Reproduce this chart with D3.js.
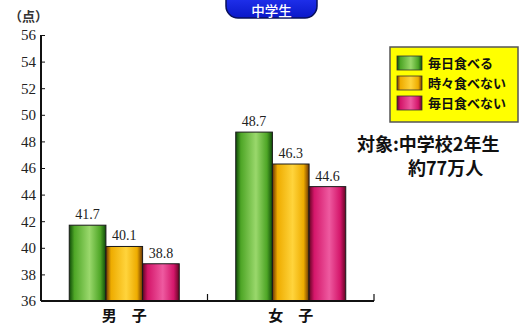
<!DOCTYPE html>
<html>
<head>
<meta charset="utf-8">
<script src="https://cdn.jsdelivr.net/npm/d3@7"></script>
<style>
  html, body { margin: 0; padding: 0; background: #fff; }
  svg { display: block; }
</style>
</head>
<body>
<svg id="chart" width="522" height="326"></svg>
<script>
// Breakfast habit vs. average score, middle school
const categories = ["男\u3000子", "女\u3000子"];
const seriesNames = ["毎日食べる", "時々食べない", "毎日食べない"];
const boysValues = [41.7, 40.1, 38.8];
const girlsValues = [48.7, 46.3, 44.6];
const yTicks = [36, 38, 40, 42, 44, 46, 48, 50, 52, 54, 56];
const title = "中学生";
const unitLabel = "（点）";
const noteLines = ["対象:中学校2年生", "約77万人"];

const table = categories.map((c, i) => ({
  category: c,
  values: [boysValues, girlsValues][i]
}));

const svg = d3.select("#chart");
const defs = svg.append("defs");

// Cylinder-like shading for each series
const palette = [
  { edge: "#0f4a08", mid: "#4ea626", light: "#9ad86c" },
  { edge: "#6a3404", mid: "#eeac00", light: "#ffd43c" },
  { edge: "#640422", mid: "#d4166a", light: "#ee5aa0" }
];
palette.forEach((p, i) => {
  const g = defs.append("linearGradient").attr("id", "grad" + i)
    .attr("x1", "0%").attr("x2", "100%").attr("y1", "0%").attr("y2", "0%");
  g.append("stop").attr("offset", "0%").attr("stop-color", p.edge);
  g.append("stop").attr("offset", "14%").attr("stop-color", p.mid);
  g.append("stop").attr("offset", "55%").attr("stop-color", p.light);
  g.append("stop").attr("offset", "85%").attr("stop-color", p.mid);
  g.append("stop").attr("offset", "100%").attr("stop-color", p.edge);
});
const titleGrad = defs.append("linearGradient").attr("id", "titleGrad")
  .attr("x1", "0%").attr("x2", "0%").attr("y1", "0%").attr("y2", "100%");
titleGrad.append("stop").attr("offset", "0%").attr("stop-color", "#2a3cff");
titleGrad.append("stop").attr("offset", "100%").attr("stop-color", "#0a18c8");

const plotLeft = 41, plotRight = 374, plotTop = 35, plotBottom = 301;

const y = d3.scaleLinear().domain([36, 56]).range([plotBottom, plotTop]);
const x0 = d3.scaleBand().domain(categories).range([plotLeft, plotRight]).padding(0);
const groupW = 110;
const x1 = d3.scaleBand().domain(seriesNames)
  .range([(x0.bandwidth() - groupW) / 2, (x0.bandwidth() + groupW) / 2]).padding(0);

// Bars
const groups = svg.append("g").selectAll("g").data(table).join("g")
  .attr("transform", d => `translate(${x0(d.category)},0)`);

groups.selectAll("rect").data(d => d.values.map((v, i) => ({ v, i })))
  .join("rect")
  .attr("x", d => x1(seriesNames[d.i]))
  .attr("y", d => y(d.v))
  .attr("width", x1.bandwidth())
  .attr("height", d => plotBottom - y(d.v))
  .attr("fill", d => `url(#grad${d.i})`)
  .attr("stroke", "#1a1a1a")
  .attr("stroke-width", 1);

groups.selectAll("text.val").data(d => d.values.map((v, i) => ({ v, i })))
  .join("text")
  .attr("class", "val")
  .attr("x", d => x1(seriesNames[d.i]) + x1.bandwidth() / 2)
  .attr("y", d => y(d.v) - 6)
  .attr("text-anchor", "middle")
  .attr("font-family", "'Liberation Serif', 'DejaVu Serif', serif")
  .attr("font-size", 14)
  .attr("fill", "#222")
  .text(d => d.v.toFixed(1));

// Y axis
const yAxis = d3.axisRight(y).tickValues(yTicks).tickSize(4).tickFormat(d3.format("d"));
const yg = svg.append("g").attr("transform", `translate(${plotLeft},0)`).call(yAxis);
yg.select(".domain").attr("stroke", "#111").attr("stroke-width", 2)
  .attr("d", `M0,${plotTop}V${plotBottom}`);
yg.selectAll(".tick line").attr("stroke", "#111").attr("stroke-width", 1);
yg.selectAll(".tick text")
  .attr("x", -5).attr("text-anchor", "end")
  .attr("font-family", "'Liberation Serif', 'DejaVu Serif', serif")
  .attr("font-size", 15).attr("fill", "#222");

// X axis with separators pointing up
const xAxis = d3.axisBottom(x0).tickSize(0).tickFormat("");
const xg = svg.append("g").attr("transform", `translate(0,${plotBottom})`).call(xAxis);
xg.select(".domain").attr("stroke", "#111").attr("stroke-width", 2)
  .attr("d", `M${plotLeft},0H${plotRight}`);
xg.selectAll(".tick").remove();
const seps = categories.map(c => x0(c) + x0.bandwidth());
xg.selectAll("line.sep").data(seps).join("line")
  .attr("class", "sep")
  .attr("x1", d => d).attr("x2", d => d)
  .attr("y1", 0).attr("y2", -7)
  .attr("stroke", "#111").attr("stroke-width", 1.2);

svg.append("g").selectAll("text").data(categories).join("text")
  .attr("x", d => x0(d) + x0.bandwidth() / 2)
  .attr("y", 321)
  .attr("text-anchor", "middle")
  .attr("font-family", "'Noto Sans CJK JP', sans-serif")
  .attr("font-size", 15).attr("font-weight", 700)
  .attr("fill", "#111")
  .text(d => d);

// Unit label
svg.append("text").attr("x", 9).attr("y", 21)
  .attr("font-family", "'Noto Sans CJK JP', sans-serif")
  .attr("font-size", 13).attr("font-weight", 700).attr("fill", "#333")
  .text(unitLabel);

// Title pill
svg.append("rect").attr("x", 226).attr("y", -12).attr("width", 91).attr("height", 30)
  .attr("rx", 12).attr("fill", "url(#titleGrad)").attr("stroke", "#08105a").attr("stroke-width", 1.5);
svg.append("text").attr("x", 271.5).attr("y", 15.5)
  .attr("text-anchor", "middle")
  .attr("font-family", "'Noto Sans CJK JP', sans-serif")
  .attr("font-size", 13.5).attr("font-weight", 500).attr("fill", "#fff")
  .text(title);

// Legend
const lg = svg.append("g");
lg.append("rect").attr("x", 390).attr("y", 47).attr("width", 128).attr("height", 75)
  .attr("fill", "#ffff00").attr("stroke", "#555").attr("stroke-width", 1.5);
const rows = lg.selectAll("g.row").data(seriesNames).join("g").attr("class", "row")
  .attr("transform", (d, i) => `translate(397,${63 + i * 20})`);
rows.append("rect").attr("x", 0).attr("y", -7).attr("width", 25).attr("height", 14)
  .attr("fill", (d, i) => `url(#grad${i})`).attr("stroke", "#333").attr("stroke-width", 0.8);
rows.append("text").attr("x", 31).attr("y", 5)
  .attr("font-family", "'Noto Sans CJK JP', sans-serif")
  .attr("font-size", 13).attr("font-weight", 700).attr("fill", "#111")
  .text(d => d);

// Note
const noteX = [357, 408];
svg.append("g").selectAll("text").data(noteLines).join("text")
  .attr("x", (d, i) => noteX[i]).attr("y", (d, i) => 151 + i * 24)
  .attr("font-family", "'Noto Sans CJK JP', sans-serif")
  .attr("font-size", 18).attr("font-weight", 700).attr("fill", "#111")
  .text(d => d);
</script>
</body>
</html>
